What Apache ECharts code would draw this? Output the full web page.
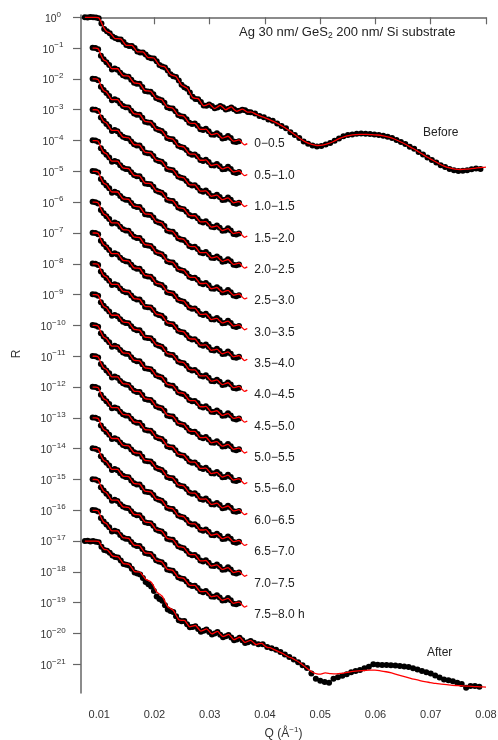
<!DOCTYPE html>
<html><head><meta charset="utf-8">
<script src="https://cdn.jsdelivr.net/npm/echarts@6/dist/echarts.min.js"></script>
<style>html,body{margin:0;padding:0;background:#fff}#c{width:498px;height:740px}</style>
</head><body><div id="c"></div>
<script>
// ---- axis ticks ----
const xTicks = [0.01, 0.02, 0.03, 0.04, 0.05, 0.06, 0.07, 0.08];
const yTickExps = [-21,-20,-19,-18,-17,-16,-15,-14,-13,-12,-11,-10,-9,-8,-7,-6,-5,-4,-3,-2,-1,0];

// ---- in-situ curves: labels and decade offsets (log10 R) ----
const situLabels = ['0\u22120.5','0.5\u22121.0','1.0\u22121.5','1.5\u22122.0','2.0\u22122.5','2.5\u22123.0','3.0\u22123.5','3.5\u22124.0','4.0\u22124.5','4.5\u22125.0','5.0\u22125.5','5.5\u22126.0','6.0\u22126.5','6.5\u22127.0','7.0\u22127.5','7.5\u22128.0 h'];
const situOffsets = [-1,-2,-3,-4,-5,-6,-7,-8,-9,-10,-11,-12,-13,-14,-15,-16];

// in-situ fit profile [Q, log10 R relative to start]
const situFit = [[0.0088,0.00],[0.0093,0.00],[0.0098,-0.02],[0.0103,-0.22],[0.0108,-0.38],[0.0113,-0.43],[0.0118,-0.56],[0.0123,-0.67],[0.0128,-0.67],[0.0133,-0.67],[0.0138,-0.78],[0.0143,-0.89],[0.0148,-0.90],[0.0153,-0.91],[0.0158,-1.02],[0.0163,-1.13],[0.0168,-1.14],[0.0173,-1.15],[0.0178,-1.27],[0.0183,-1.38],[0.0188,-1.39],[0.0193,-1.40],[0.0198,-1.51],[0.0203,-1.63],[0.0208,-1.65],[0.0213,-1.67],[0.0218,-1.79],[0.0223,-1.91],[0.0228,-1.93],[0.0233,-1.95],[0.0238,-2.06],[0.0243,-2.18],[0.0248,-2.19],[0.0253,-2.21],[0.0258,-2.32],[0.0263,-2.43],[0.0268,-2.44],[0.0273,-2.44],[0.0278,-2.54],[0.0283,-2.64],[0.0288,-2.64],[0.0293,-2.63],[0.0298,-2.72],[0.0303,-2.81],[0.0308,-2.79],[0.0313,-2.77],[0.0318,-2.85],[0.0323,-2.92],[0.0328,-2.89],[0.0333,-2.86],[0.0338,-2.94],[0.0343,-3.02],[0.0348,-3.00],[0.0353,-2.98],[0.0358,-3.06],[0.0363,-3.14],[0.0368,-3.10]];
// in-situ measured profile [Q, log10 R relative to start]
const situData = [[0.0088,0.01],[0.0093,0.00],[0.0098,-0.04],[0.0103,-0.25],[0.0108,-0.36],[0.0113,-0.46],[0.0118,-0.55],[0.0123,-0.69],[0.0128,-0.66],[0.0133,-0.70],[0.0138,-0.80],[0.0143,-0.88],[0.0148,-0.92],[0.0153,-0.93],[0.0158,-1.03],[0.0163,-1.12],[0.0168,-1.16],[0.0173,-1.16],[0.0178,-1.26],[0.0183,-1.39],[0.0188,-1.41],[0.0193,-1.42],[0.0198,-1.50],[0.0203,-1.62],[0.0208,-1.66],[0.0213,-1.69],[0.0218,-1.77],[0.0223,-1.92],[0.0228,-1.95],[0.0233,-1.96],[0.0238,-2.05],[0.0243,-2.17],[0.0248,-2.21],[0.0253,-2.23],[0.0258,-2.31],[0.0263,-2.42],[0.0268,-2.46],[0.0273,-2.45],[0.0278,-2.52],[0.0283,-2.63],[0.0288,-2.66],[0.0293,-2.62],[0.0298,-2.70],[0.0303,-2.80],[0.0308,-2.81],[0.0313,-2.76],[0.0318,-2.83],[0.0323,-2.93],[0.0328,-2.92],[0.0333,-2.85],[0.0338,-2.92],[0.0343,-3.03],[0.0348,-3.05],[0.0353,-3.02]];

// ---- Before [Q, log10 R] ----
const beforeFit = [[0.0074,0.00],[0.0079,0.00],[0.0084,0.00],[0.0089,0.00],[0.0094,0.00],[0.0099,-0.01],[0.0104,-0.18],[0.0109,-0.36],[0.0114,-0.47],[0.0119,-0.50],[0.0124,-0.60],[0.0129,-0.69],[0.0134,-0.69],[0.0139,-0.70],[0.0144,-0.81],[0.0149,-0.91],[0.0154,-0.91],[0.0159,-0.91],[0.0164,-1.01],[0.0169,-1.12],[0.0174,-1.12],[0.0179,-1.12],[0.0184,-1.22],[0.0189,-1.31],[0.0194,-1.31],[0.0199,-1.32],[0.0204,-1.44],[0.0209,-1.56],[0.0214,-1.59],[0.0219,-1.61],[0.0224,-1.74],[0.0229,-1.86],[0.0234,-1.89],[0.0239,-1.92],[0.0244,-2.06],[0.0249,-2.20],[0.0254,-2.25],[0.0259,-2.30],[0.0264,-2.45],[0.0269,-2.60],[0.0274,-2.63],[0.0279,-2.64],[0.0284,-2.76],[0.0289,-2.87],[0.0294,-2.85],[0.0299,-2.81],[0.0304,-2.89],[0.0309,-2.96],[0.0314,-2.91],[0.0319,-2.86],[0.0324,-2.93],[0.0329,-3.00],[0.0334,-2.95],[0.0339,-2.91],[0.0344,-2.99],[0.0349,-3.05],[0.0354,-3.01],[0.0359,-2.98],[0.0364,-3.03],[0.0369,-3.08],[0.0374,-3.07],
 [0.0384,-3.15],[0.0394,-3.22],[0.0404,-3.29],[0.0414,-3.37],[0.0424,-3.46],[0.0434,-3.56],[0.0444,-3.68],[0.0454,-3.81],[0.0464,-3.94],[0.0474,-4.05],[0.0484,-4.12],[0.0494,-4.16],[0.0504,-4.15],[0.0514,-4.10],[0.0524,-4.03],[0.0534,-3.94],[0.0544,-3.87],[0.0554,-3.83],[0.0564,-3.81],[0.0574,-3.80],[0.0584,-3.80],[0.0594,-3.81],[0.0604,-3.82],[0.0614,-3.85],[0.0624,-3.89],[0.0634,-3.95],[0.0644,-4.03],[0.0654,-4.12],[0.0664,-4.22],[0.0674,-4.32],[0.0684,-4.43],[0.0694,-4.54],[0.0704,-4.64],[0.0714,-4.74],[0.0724,-4.83],[0.0734,-4.89],[0.0744,-4.93],[0.0754,-4.94],[0.0764,-4.93],[0.0774,-4.91],[0.0784,-4.89],[0.0794,-4.87],[0.0800,-4.86]];
const beforeData = [[0.0074,0.00],[0.0079,-0.01],[0.0084,0.01],[0.0089,0.00],[0.0094,-0.01],[0.0099,-0.03],[0.0104,-0.20],[0.0109,-0.38],[0.0114,-0.45],[0.0119,-0.52],[0.0124,-0.62],[0.0129,-0.67],[0.0134,-0.71],[0.0139,-0.72],[0.0144,-0.80],[0.0149,-0.90],[0.0154,-0.93],[0.0159,-0.93],[0.0164,-1.00],[0.0169,-1.11],[0.0174,-1.14],[0.0179,-1.14],[0.0184,-1.21],[0.0189,-1.30],[0.0194,-1.33],[0.0199,-1.34],[0.0204,-1.43],[0.0209,-1.55],[0.0214,-1.60],[0.0219,-1.63],[0.0224,-1.73],[0.0229,-1.85],[0.0234,-1.91],[0.0239,-1.94],[0.0244,-2.05],[0.0249,-2.19],[0.0254,-2.27],[0.0259,-2.32],[0.0264,-2.44],[0.0269,-2.58],[0.0274,-2.65],[0.0279,-2.66],[0.0284,-2.75],[0.0289,-2.86],[0.0294,-2.87],[0.0299,-2.83],[0.0304,-2.88],[0.0309,-2.95],[0.0314,-2.93],[0.0319,-2.88],[0.0324,-2.92],[0.0329,-2.99],[0.0334,-2.97],[0.0339,-2.93],[0.0344,-2.98],[0.0349,-3.04],[0.0354,-3.03],[0.0359,-3.00],[0.0364,-3.02],[0.0369,-3.07],[0.0374,-3.08],
 [0.0382,-3.12],[0.0390,-3.20],[0.0398,-3.24],[0.0406,-3.32],[0.0414,-3.36],[0.0422,-3.45],[0.0430,-3.53],[0.0438,-3.60],[0.0446,-3.73],[0.0454,-3.82],[0.0462,-3.92],[0.0470,-4.03],[0.0478,-4.10],[0.0486,-4.16],[0.0494,-4.19],[0.0502,-4.18],[0.0510,-4.13],[0.0518,-4.08],[0.0526,-4.01],[0.0534,-3.93],[0.0542,-3.86],[0.0550,-3.82],[0.0558,-3.80],[0.0566,-3.78],[0.0574,-3.77],[0.0582,-3.78],[0.0590,-3.79],[0.0598,-3.80],[0.0606,-3.82],[0.0614,-3.84],[0.0622,-3.88],[0.0630,-3.92],[0.0638,-3.98],[0.0646,-4.05],[0.0654,-4.11],[0.0662,-4.20],[0.0670,-4.27],[0.0678,-4.37],[0.0686,-4.45],[0.0694,-4.55],[0.0702,-4.63],[0.0710,-4.71],[0.0718,-4.80],[0.0726,-4.86],[0.0734,-4.92],[0.0742,-4.96],[0.0750,-4.99],[0.0758,-4.98],[0.0766,-4.96],[0.0774,-4.93],[0.0782,-4.91],[0.0790,-4.92]];

// ---- After [Q, log10 R] ----
const afterFit = [[0.0074,-17.00],[0.0079,-17.00],[0.0084,-17.00],[0.0089,-17.00],[0.0094,-17.00],[0.0099,-17.01],[0.0104,-17.16],[0.0109,-17.27],[0.0114,-17.28],[0.0119,-17.37],[0.0124,-17.48],[0.0129,-17.50],[0.0134,-17.51],[0.0139,-17.62],[0.0144,-17.73],[0.0149,-17.74],[0.0154,-17.76],[0.0159,-17.87],[0.0164,-17.99],[0.0169,-18.00],[0.0174,-18.01],[0.0179,-18.12],[0.0184,-18.24],[0.0189,-18.28],[0.0194,-18.33],[0.0199,-18.48],[0.0204,-18.65],[0.0209,-18.72],[0.0214,-18.79],[0.0219,-18.96],[0.0224,-19.13],[0.0229,-19.19],[0.0234,-19.25],[0.0239,-19.40],[0.0244,-19.55],[0.0249,-19.57],[0.0254,-19.57],[0.0259,-19.68],[0.0264,-19.78],[0.0269,-19.76],[0.0274,-19.74],[0.0279,-19.83],[0.0284,-19.92],[0.0289,-19.89],[0.0294,-19.85],[0.0299,-19.93],[0.0304,-20.01],[0.0309,-19.97],[0.0314,-19.93],[0.0319,-20.02],[0.0324,-20.10],[0.0329,-20.07],[0.0334,-20.03],[0.0339,-20.11],[0.0344,-20.20],[0.0349,-20.16],[0.0354,-20.12],[0.0359,-20.21],[0.0364,-20.29],[0.0369,-20.25],[0.0374,-20.22],[0.0379,-20.29],[0.0384,-20.36],[0.0389,-20.33],[0.0394,-20.32],[0.0399,-20.39],[0.0404,-20.45],[0.0409,-20.46],[0.0414,-20.50],[0.0419,-20.54],[0.0424,-20.58],[0.0429,-20.62],[0.0434,-20.67],[0.0439,-20.72],[0.0444,-20.77],[0.0449,-20.80],[0.0454,-20.85],[0.0459,-20.90],[0.0464,-20.96],[0.0469,-21.03],[0.0474,-21.10],[0.0479,-21.17],[0.0484,-21.23],[0.0489,-21.28],[0.0494,-21.31],[0.0499,-21.32],
 [0.0509,-21.28],[0.0519,-21.30],[0.0529,-21.31],[0.0539,-21.29],[0.0549,-21.26],[0.0559,-21.23],[0.0569,-21.21],[0.0579,-21.20],[0.0589,-21.19],[0.0599,-21.19],[0.0609,-21.21],[0.0619,-21.24],[0.0629,-21.28],[0.0639,-21.33],[0.0649,-21.38],[0.0659,-21.43],[0.0669,-21.48],[0.0679,-21.52],[0.0689,-21.56],[0.0699,-21.59],[0.0709,-21.62],[0.0719,-21.64],[0.0729,-21.66],[0.0739,-21.68],[0.0749,-21.69],[0.0759,-21.70],[0.0769,-21.71],[0.0779,-21.72],[0.0789,-21.73],[0.0800,-21.74]];
const afterData = [[0.0074,-17.00],[0.0079,-16.99],[0.0084,-17.01],[0.0089,-17.00],[0.0094,-17.02],[0.0099,-17.04],[0.0104,-17.18],[0.0109,-17.29],[0.0114,-17.31],[0.0119,-17.38],[0.0124,-17.47],[0.0129,-17.52],[0.0134,-17.53],[0.0139,-17.63],[0.0144,-17.74],[0.0149,-17.77],[0.0154,-17.79],[0.0159,-17.90],[0.0164,-18.02],[0.0169,-18.05],[0.0174,-18.08],[0.0179,-18.20],[0.0184,-18.33],[0.0189,-18.40],[0.0194,-18.47],[0.0199,-18.62],[0.0204,-18.80],[0.0209,-18.88],[0.0214,-18.94],[0.0219,-19.08],[0.0224,-19.22],[0.0229,-19.27],[0.0234,-19.30],[0.0239,-19.44],[0.0244,-19.57],[0.0249,-19.60],[0.0254,-19.59],[0.0259,-19.70],[0.0264,-19.80],[0.0269,-19.79],[0.0274,-19.76],[0.0279,-19.85],[0.0284,-19.94],[0.0289,-19.91],[0.0294,-19.87],[0.0299,-19.95],[0.0304,-20.03],[0.0309,-20.00],[0.0314,-19.95],[0.0319,-20.04],[0.0324,-20.12],[0.0329,-20.09],[0.0334,-20.05],[0.0339,-20.13],[0.0344,-20.22],[0.0349,-20.19],[0.0354,-20.14],[0.0359,-20.22],[0.0364,-20.31],[0.0369,-20.28],[0.0374,-20.24],
 [0.0380,-20.30],[0.0388,-20.35],[0.0396,-20.35],[0.0404,-20.44],[0.0412,-20.48],[0.0420,-20.53],[0.0428,-20.60],[0.0436,-20.68],[0.0444,-20.76],[0.0452,-20.84],[0.0460,-20.93],[0.0468,-21.03],[0.0476,-21.12],[0.0484,-21.30],[0.0492,-21.47],[0.0500,-21.53],[0.0508,-21.57],[0.0516,-21.60],[0.0524,-21.47],[0.0532,-21.42],[0.0540,-21.37],[0.0548,-21.32],[0.0556,-21.26],[0.0564,-21.22],[0.0572,-21.18],[0.0580,-21.13],[0.0588,-21.08],[0.0596,-21.00],[0.0604,-21.01],[0.0612,-21.02],[0.0620,-21.02],[0.0628,-21.03],[0.0636,-21.04],[0.0644,-21.05],[0.0652,-21.07],[0.0660,-21.09],[0.0668,-21.13],[0.0676,-21.17],[0.0684,-21.22],[0.0692,-21.26],[0.0700,-21.30],[0.0708,-21.36],[0.0716,-21.43],[0.0724,-21.49],[0.0732,-21.52],[0.0740,-21.55],[0.0748,-21.60],[0.0756,-21.64],[0.0764,-21.76],[0.0772,-21.70],[0.0780,-21.70],[0.0788,-21.73]];

// ---- chart ----
const FONT = '"Liberation Sans", Arial, sans-serif';
const RED = '#ff0000';
const chart = echarts.init(document.getElementById('c'), null, {renderer: 'canvas'});

const dataSeries = [];
const fitSeries = [];
function addCurve(name, data, fit, endLabelText, labelDy) {
  dataSeries.push({
    name: name + ' data', type: 'scatter', data: data, symbol: 'circle', symbolSize: 6,
    itemStyle: {color: '#000', opacity: 1}, silent: true, z: 2
  });
  const s = {
    name: name + ' fit', type: 'line', data: fit, showSymbol: false, symbol: 'none', smooth: 0.3,
    lineStyle: {color: RED, width: 1.3}, silent: true, z: 3, clip: false
  };
  if (endLabelText) {
    s.endLabel = {show: true, formatter: () => endLabelText, color: '#222', fontSize: 12,
      fontFamily: FONT, distance: 7, offset: [0, labelDy]};
  }
  fitSeries.push(s);
}
addCurve('Before', beforeData, beforeFit, null, 0);
situOffsets.forEach((off, i) => {
  addCurve(situLabels[i],
    situData.map(([q, v]) => [q, +(v + off).toFixed(3)]),
    situFit.map(([q, v]) => [q, +(v + off).toFixed(3)]),
    situLabels[i], 0.5 + i * 0.55);
});
addCurve('After', afterData, afterFit, null, 0);

const supFmt = (n) => '{b|10}{s|' + (n === 0 ? '0' : '\u2212' + (-n)) + '}';

chart.setOption({
  animation: false,
  backgroundColor: '#fff',
  grid: {left: 81, right: 12, top: 15, bottom: 47, containLabel: false, outerBoundsMode: 'none'},
  xAxis: {
    type: 'value', min: 0.0067, max: 0.08,
    axisLine: {lineStyle: {color: '#666', width: 1.5}},
    axisTick: {show: true, length: 7, customValues: xTicks, lineStyle: {color: '#666', width: 1.2}},
    axisLabel: {customValues: xTicks, formatter: (v) => v.toFixed(2), fontSize: 11, color: '#333',
      fontFamily: FONT, margin: 16},
    splitLine: {show: false},
    name: '{a|Q (\u00c5}{s|\u22121}{a|)}', nameLocation: 'middle', nameGap: 33,
    nameTextStyle: {rich: {a: {fontSize: 12, color: '#333', fontFamily: FONT},
      s: {fontSize: 8, color: '#333', fontFamily: FONT, padding: [0, 0, 7, 0]}}}
  },
  yAxis: {
    type: 'value', min: -21.93, max: 0.075,
    axisLine: {lineStyle: {color: '#666', width: 1.5}},
    axisTick: {show: true, length: 8, customValues: yTickExps, lineStyle: {color: '#666', width: 1.2}},
    axisLabel: {customValues: yTickExps, formatter: (v) => supFmt(Math.round(v)), align: 'center', margin: 28,
      rich: {b: {fontSize: 10.5, color: '#333', fontFamily: FONT, padding: [3, 0, 0, 0]},
             s: {fontSize: 8, color: '#333', fontFamily: FONT, padding: [0, 0, 6, 0]}}},
    splitLine: {show: false},
    name: 'R', nameLocation: 'middle', nameGap: 58, nameRotate: 90,
    nameTextStyle: {fontSize: 12, color: '#333', fontFamily: FONT}
  },
  graphic: [
    {type: 'text', silent: true, style: {x: 239, y: 32, text: 'Ag 30 nm/ GeS{sub|2} 200 nm/ Si substrate',
      fill: '#222', font: '13px ' + FONT, verticalAlign: 'middle', align: 'left',
      rich: {sub: {fontSize: 8.5, fill: '#222', fontFamily: FONT, padding: [7, 0, 0, 0]}}}},
    {type: 'text', silent: true, style: {x: 423, y: 133, text: 'Before', fill: '#222', font: '12px ' + FONT,
      verticalAlign: 'middle', align: 'left'}},
    {type: 'text', silent: true, style: {x: 427, y: 653, text: 'After', fill: '#222', font: '12px ' + FONT,
      verticalAlign: 'middle', align: 'left'}}
  ],
  series: dataSeries.concat(fitSeries)
});
</script>
</body></html>
